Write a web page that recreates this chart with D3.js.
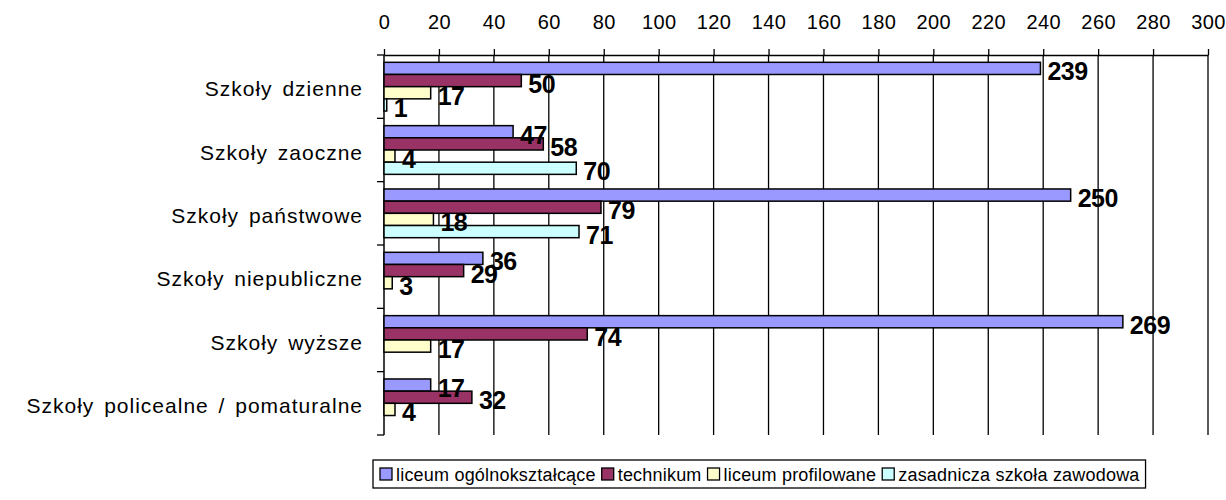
<!DOCTYPE html>
<html>
<head>
<meta charset="utf-8">
<script src="https://cdn.jsdelivr.net/npm/d3@7"></script>
<style>
body { margin: 0; background: #fff; }
text { font-family: "Liberation Sans", Arial, sans-serif; fill: #000; }
</style>
</head>
<body>
<div id="chart"></div>
<script>

var categories = ['Szkoły dzienne', 'Szkoły zaoczne', 'Szkoły państwowe', 'Szkoły niepubliczne', 'Szkoły wyższe', 'Szkoły policealne / pomaturalne'];
var seriesNames = ['liceum ogólnokształcące', 'technikum', 'liceum profilowane', 'zasadnicza szkoła zawodowa'];

var liceumOgolno = [239, 47, 250, 36, 269, 17];
var technikum = [50, 58, 79, 29, 74, 32];
var liceumProfil = [17, 4, 18, 3, 17, 4];
var zasadnicza = [1, 70, 71, null, null, null];

var xTicks = [0, 20, 40, 60, 80, 100, 120, 140, 160, 180, 200, 220, 240, 260, 280, 300];

var colors = ['#9999ff', '#993366', '#ffffcc', '#ccffff'];
var allSeries = [liceumOgolno, technikum, liceumProfil, zasadnicza];

var width = 1226, height = 500;

var svg = d3.select('#chart').append('svg')
	.attr('width', width)
	.attr('height', height);

var x = d3.scaleLinear().domain([0, 300]).range([384, 1208]);
var y0 = d3.scaleBand().domain(categories).range([55, 435]);
var y1 = d3.scaleBand().domain(seriesNames).range([0, y0.bandwidth()]).paddingOuter(0.6);

// gridlines
svg.append('g').selectAll('line')
	.data(xTicks.slice(1))
	.enter().append('line')
	.attr('x1', function (d) { return x(d); })
	.attr('x2', function (d) { return x(d); })
	.attr('y1', 55).attr('y2', 435)
	.attr('stroke', '#000').attr('stroke-width', 1.3);

// top axis
var xAxis = svg.append('g')
	.attr('transform', 'translate(0,55)')
	.call(d3.axisTop(x).tickValues(xTicks).tickSize(6).tickPadding(20).tickSizeOuter(0));
xAxis.select('.domain').attr('stroke', '#000').attr('stroke-width', 1.5);
xAxis.selectAll('.tick line').attr('stroke', '#000').attr('stroke-width', 1.3);
xAxis.selectAll('.tick text')
	.style('font-family', '"Liberation Sans", Arial, sans-serif')
	.style('font-size', '20px')
	.style('letter-spacing', '0.4px');

// left axis with ticks on band boundaries
var bounds = categories.map(function (c) { return y0(c); }).concat([y0.range()[1]]);
var yAxis = svg.append('g');
yAxis.append('line')
	.attr('x1', x(0)).attr('x2', x(0))
	.attr('y1', 55).attr('y2', 435)
	.attr('stroke', '#000').attr('stroke-width', 1.5);
yAxis.selectAll('.ytick')
	.data(bounds)
	.enter().append('line')
	.attr('class', 'ytick')
	.attr('x1', x(0) - 7).attr('x2', x(0))
	.attr('y1', function (d) { return d; })
	.attr('y2', function (d) { return d; })
	.attr('stroke', '#000').attr('stroke-width', 1.3);
yAxis.selectAll('.ylabel')
	.data(categories)
	.enter().append('text')
	.attr('class', 'ylabel')
	.attr('x', 363)
	.attr('y', function (d) { return y0(d) + y0.bandwidth() / 2 + 2; })
	.attr('text-anchor', 'end')
	.attr('dominant-baseline', 'central')
	.style('font-size', '21px')
	.style('letter-spacing', '1px')
	.style('word-spacing', '3px')
	.text(function (d) { return d; });

// bars
var rows = [];
categories.forEach(function (c, i) {
	seriesNames.forEach(function (s, j) {
		var v = allSeries[j][i];
		if (v === null) return;
		rows.push({ cat: c, series: s, idx: j, value: v });
	});
});

svg.append('g').selectAll('rect')
	.data(rows)
	.enter().append('rect')
	.attr('x', x(0))
	.attr('y', function (d) { return y0(d.cat) + y1(d.series); })
	.attr('width', function (d) { return x(d.value) - x(0); })
	.attr('height', y1.bandwidth())
	.attr('fill', function (d) { return colors[d.idx]; })
	.attr('stroke', '#000')
	.attr('stroke-width', 1.5);

// value labels
svg.append('g').selectAll('text')
	.data(rows)
	.enter().append('text')
	.attr('x', function (d) { return x(d.value) + 7; })
	.attr('y', function (d) { return y0(d.cat) + y1(d.series) + y1.bandwidth() / 2 + 3; })
	.attr('dominant-baseline', 'central')
	.style('font-size', '25px')
	.style('font-weight', 'bold')
	.style('letter-spacing', '-0.5px')
	.text(function (d) { return d.value; });

// legend
var legend = svg.append('g');
var legendBox = legend.append('rect')
	.attr('fill', 'none').attr('stroke', '#000').attr('stroke-width', 1.3);
var lx = 380, ly = 474;
seriesNames.forEach(function (s, j) {
	legend.append('rect')
		.attr('x', lx).attr('y', ly - 6)
		.attr('width', 12).attr('height', 12)
		.attr('fill', colors[j])
		.attr('stroke', '#000').attr('stroke-width', 1.3);
	var t = legend.append('text')
		.attr('x', lx + 16).attr('y', ly + 1)
		.attr('dominant-baseline', 'central')
		.style('font-size', '18px')
		.style('letter-spacing', '0.2px')
		.text(s);
	lx += 16 + t.node().getComputedTextLength() + 6;
});
legendBox.attr('x', 373).attr('y', 460)
	.attr('width', lx - 373).attr('height', 28);

</script>
</body>
</html>
